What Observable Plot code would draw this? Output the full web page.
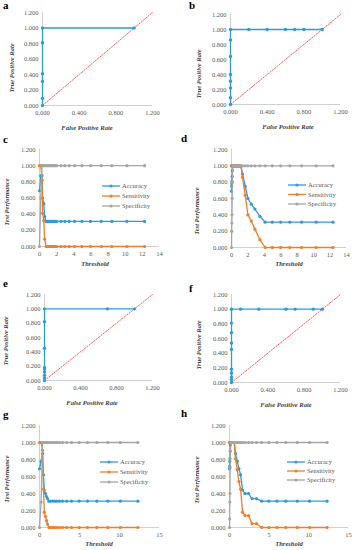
<!DOCTYPE html>
<html><head><meta charset="utf-8">
<script src="https://cdn.jsdelivr.net/npm/d3@7"></script>
<script src="https://cdn.jsdelivr.net/npm/@observablehq/plot@0.6"></script>
<style>
body{margin:0;background:#fff;width:354px;height:550px;position:relative;overflow:hidden;font-family:"Liberation Serif",serif;}
.panel{position:absolute;}
#overlay{position:absolute;left:0;top:0;pointer-events:none;}
</style></head><body>
<script>
// ---------- DATA ----------
const panelLetters = ["a","b","c","d","e","f","g","h"];
const rocTitleX = "False Positive Rate";
const rocTitleY = "True Positive Rate";
const thrTitleX = "Threshold";
const thrTitleY = "Test Performance";
const seriesNames = ["Accuracy","Sensitivity","Specificity"];

const rateTicks = [0, 0.2, 0.4, 0.6, 0.8, 1.0, 1.2];
const fprTicks = [0, 0.4, 0.8, 1.2];
const thrTicks14 = [0, 2, 4, 6, 8, 10, 12, 14];
const thrTicks15 = [0, 5, 10, 15];
const diagonal = [0, 1.2];

// ROC a
const fprA = [0, 0, 0, 0, 0, 0, 1.0];
const tprA = [0, 0.09, 0.31, 0.41, 0.81, 1.0, 1.0];
// ROC b
const fprB = [0, 0, 0, 0, 0, 0, 0, 0, 0.2, 0.4, 0.6, 0.7, 0.8, 1.0];
const tprB = [0, 0.09, 0.22, 0.31, 0.40, 0.64, 0.86, 1.0, 1.0, 1.0, 1.0, 1.0, 1.0, 1.0];
// ROC e
const fprE = [0, 0, 0, 0, 0, 0, 0, 0, 0, 0.7, 1.0];
const tprE = [0, 0.037, 0.074, 0.12, 0.16, 0.18, 0.45, 0.82, 1.0, 1.0, 1.0];
// ROC f
const fprF = [0, 0, 0, 0, 0, 0, 0, 0, 0, 0, 0.1, 0.3, 0.6, 0.7, 0.9, 1.0];
const tprF = [0, 0.04, 0.077, 0.13, 0.18, 0.45, 0.54, 0.68, 0.81, 1.0, 1.0, 1.0, 1.0, 1.0, 1.0, 1.0];

// Threshold c
const thrC  = [0, 0.15, 0.3, 0.36, 0.5, 0.6, 0.77, 0.9, 1.0, 1.12, 1.25, 1.37, 1.48, 1.6, 1.71, 1.85, 2.0, 2.5, 2.96, 3.46, 4.09, 4.94, 5.95, 7.2, 8.44, 10.2, 12.26];
const accC  = [0.69, 0.876, 0.876, 0.60, 0.53, 0.37, 0.31, 0.31, 0.31, 0.31, 0.31, 0.31, 0.31, 0.31, 0.31, 0.31, 0.31, 0.31, 0.31, 0.31, 0.31, 0.31, 0.31, 0.31, 0.31, 0.31, 0.31];
const sensC = [1.0, 1.0, 0.82, 0.41, 0.32, 0.09, 0, 0, 0, 0, 0, 0, 0, 0, 0, 0, 0, 0, 0, 0, 0, 0, 0, 0, 0, 0, 0];
const specC = [0, 0.6, 1, 1, 1, 1, 1, 1, 1, 1, 1, 1, 1, 1, 1, 1, 1, 1, 1, 1, 1, 1, 1, 1, 1, 1, 1];

// Threshold d
const thrD  = [0, 0.02, 0.04, 0.06, 0.08, 0.1, 0.15, 0.25, 0.35, 0.45, 0.55, 0.65, 0.75, 0.85, 0.95, 1.05, 1.15, 1.34, 1.67, 2.0, 2.4, 2.85, 3.46, 4.1, 4.96, 5.98, 7.1, 8.54, 10.3, 12.36];
const accD  = [0.69, 0.75, 0.78, 0.81, 0.87, 0.94, 1, 1, 1, 1, 1, 1, 1, 1, 1, 1, 1, 0.90, 0.75, 0.60, 0.53, 0.47, 0.38, 0.31, 0.31, 0.31, 0.31, 0.31, 0.31, 0.31];
const sensD = [1, 1, 1, 1, 1, 1, 1, 1, 1, 1, 1, 1, 1, 1, 1, 1, 1, 0.86, 0.64, 0.40, 0.325, 0.225, 0.096, 0, 0, 0, 0, 0, 0, 0];
const specD = [0, 0.2, 0.3, 0.4, 0.6, 0.8, 1, 1, 1, 1, 1, 1, 1, 1, 1, 1, 1, 1, 1, 1, 1, 1, 1, 1, 1, 1, 1, 1, 1, 1];

// Threshold g
const thrG  = [0, 0.2, 0.375, 0.5, 0.6, 0.75, 0.875, 1.0, 1.17, 1.4, 1.67, 1.92, 2.17, 2.5, 2.875, 3.4, 4.0, 4.96, 6.0, 7.17, 8.54, 10.1, 12.3];
const accG  = [0.69, 0.78, 0.87, 0.62, 0.44, 0.40, 0.365, 0.34, 0.31, 0.31, 0.31, 0.31, 0.31, 0.31, 0.31, 0.31, 0.31, 0.31, 0.31, 0.31, 0.31, 0.31, 0.31];
const sensG = [1, 1, 0.91, 0.45, 0.18, 0.13, 0.08, 0.04, 0, 0, 0, 0, 0, 0, 0, 0, 0, 0, 0, 0, 0, 0, 0];
const specG = [0, 0.3, 1, 1, 1, 1, 1, 1, 1, 1, 1, 1, 1, 1, 1, 1, 1, 1, 1, 1, 1, 1, 1];

// Threshold h
const thrH  = [0, 0.02, 0.04, 0.06, 0.08, 0.1, 0.2, 0.3, 0.4, 0.5, 0.6, 0.76, 0.97, 1.19, 1.4, 1.65, 1.95, 2.4, 2.84, 3.4, 4.07, 4.96, 5.98, 7.1, 8.54, 10.1, 12.3];
const accH  = [0.69, 0.72, 0.78, 0.81, 0.90, 0.97, 1, 1, 1, 1, 1, 0.87, 0.78, 0.69, 0.62, 0.44, 0.40, 0.40, 0.34, 0.34, 0.31, 0.31, 0.31, 0.31, 0.31, 0.31, 0.31];
const sensH = [1, 1, 1, 1, 1, 1, 1, 1, 1, 1, 1, 0.81, 0.68, 0.54, 0.45, 0.18, 0.14, 0.14, 0.045, 0.045, 0, 0, 0, 0, 0, 0, 0];
const specH = [0, 0.1, 0.3, 0.4, 0.7, 0.9, 1, 1, 1, 1, 1, 1, 1, 1, 1, 1, 1, 1, 1, 1, 1, 1, 1, 1, 1, 1, 1];

// ---------- STYLE ----------
const BLUE = "#2e9bd9", ORANGE = "#f07d2a", GRAY = "#a5a5a5", RED = "#ff5a5a";
const AXIS = "#d0d0d0", TXT = "#595959";
const FONT = '"Liberation Serif", "Times New Roman", serif';
const seriesColors = [BLUE, ORANGE, GRAY];

// ---------- LAYOUT ----------
const rocPanels = [
  {letter:0, left:0,   top:0,   h:135, ml:42, mr:25, mt:12, mb:30, fpr:fprA, tpr:tprA,
   tx:[87,128], ty:[12,68], lp:[3,9]},
  {letter:1, left:177, top:0,   h:135, ml:53, mr:14, mt:14, mb:31, fpr:fprB, tpr:tprB,
   tx:[288,127], ty:[199,74], lp:[189,9]},
  {letter:4, left:0,   top:275, h:135, ml:44, mr:25, mt:19, mb:30, fpr:fprE, tpr:tprE,
   tx:[92,403], ty:[6,341], lp:[3,287]},
  {letter:5, left:177, top:275, h:135, ml:54, mr:14, mt:19, mb:28, fpr:fprF, tpr:tprF,
   tx:[286,405], ty:[199,345], lp:[189,292]},
];
const thrPanels = [
  {letter:2, left:0,   top:135, h:135, ml:39, mr:18, mt:14, mb:24, xmax:14, ticks:thrTicks14,
   t:thrC, acc:accC, sens:sensC, spec:specC, tx:[95,264], ty:[7,202], lp:[3,143], leg:[102,186,10]},
  {letter:3, left:177, top:135, h:135, ml:54, mr:8,  mt:14, mb:23, xmax:14, ticks:thrTicks14,
   t:thrD, acc:accD, sens:sensD, spec:specD, tx:[289,264], ty:[197,211], lp:[181,142], leg:[288,185,9.5]},
  {letter:6, left:0,   top:410, h:140, ml:39, mr:18, mt:15, mb:23, xmax:15, ticks:thrTicks15,
   t:thrG, acc:accG, sens:sensG, spec:specG, tx:[99,544], ty:[7,479], lp:[3,418], leg:[100,462,10]},
  {letter:7, left:177, top:410, h:140, ml:52, mr:6,  mt:15, mb:23, xmax:15, ticks:thrTicks15,
   t:thrH, acc:accH, sens:sensH, spec:specH, tx:[289,544], ty:[197,480], lp:[181,417], leg:[287,462,9]},
];

const fmt3 = d3.format(".3f");
function baseStyle(){
  return {fontFamily: FONT, fontSize: "6.5px", color: TXT, background: "transparent", overflow: "visible"};
}
function place(svg, p){
  const div = document.createElement("div");
  div.className = "panel";
  div.style.left = p.left + "px";
  div.style.top = p.top + "px";
  div.appendChild(svg);
  document.body.appendChild(div);
}

for (const p of rocPanels) {
  const pts = p.fpr.map((f, i) => ({f, t: p.tpr[i]}));
  const diag = diagonal.map(v => ({v}));
  const svg = Plot.plot({
    width: 177, height: p.h,
    marginLeft: p.ml, marginRight: p.mr, marginTop: p.mt, marginBottom: p.mb,
    style: baseStyle(),
    x: {domain: [0, 1.2], ticks: fprTicks, tickFormat: fmt3, tickSize: 0, tickPadding: 5, label: null},
    y: {domain: [0, 1.2], ticks: rateTicks, tickFormat: fmt3, tickSize: 0, tickPadding: 4, label: null},
    marks: [
      Plot.ruleX([0], {stroke: AXIS}),
      Plot.ruleY([0], {stroke: AXIS}),
      Plot.line(diag, {x: "v", y: "v", stroke: RED, strokeWidth: 1, strokeDasharray: "1.5,1.5"}),
      Plot.line(pts, {x: "f", y: "t", stroke: BLUE, strokeWidth: 1.3}),
      Plot.dot(pts, {x: "f", y: "t", fill: BLUE, r: 1.7})
    ]
  });
  place(svg, p);
}

for (const p of thrPanels) {
  const rows = p.t.map((t, i) => ({t, acc: p.acc[i], sens: p.sens[i], spec: p.spec[i]}));
  const keys = ["acc", "sens", "spec"];
  const marks = [Plot.ruleX([0], {stroke: AXIS}), Plot.ruleY([0], {stroke: AXIS})];
  keys.forEach((k, i) => {
    marks.push(Plot.line(rows, {x: "t", y: k, stroke: seriesColors[i], strokeWidth: 1.3}));
    marks.push(Plot.dot(rows, {x: "t", y: k, fill: seriesColors[i], r: 1.6}));
  });
  const svg = Plot.plot({
    width: 177, height: p.h,
    marginLeft: p.ml, marginRight: p.mr, marginTop: p.mt, marginBottom: p.mb,
    style: baseStyle(),
    x: {domain: [0, p.xmax], ticks: p.ticks, tickFormat: d3.format("d"), tickSize: 0, tickPadding: 5, label: null},
    y: {domain: [0, 1.2], ticks: rateTicks, tickFormat: fmt3, tickSize: 0, tickPadding: 4, label: null},
    marks
  });
  place(svg, p);
}

// ---------- OVERLAY TEXT (titles, letters, legends) ----------
const ov = d3.select("body").append("svg").attr("id", "overlay")
  .attr("width", 354).attr("height", 550)
  .style("font-family", FONT);

function titles(p, xt, yt){
  ov.append("text").attr("x", p.tx[0]).attr("y", p.tx[1]).attr("dy", "0.35em")
    .attr("text-anchor", "middle").attr("font-size", 6.5).attr("font-style", "italic")
    .attr("font-weight", "bold").attr("fill", "#404040").text(xt);
  ov.append("text").attr("transform", `translate(${p.ty[0]},${p.ty[1]}) rotate(-90)`).attr("dy", "0.35em")
    .attr("text-anchor", "middle").attr("font-size", 6.5).attr("font-style", "italic")
    .attr("font-weight", "bold").attr("fill", "#404040").text(yt);
  ov.append("text").attr("x", p.lp[0]).attr("y", p.lp[1])
    .attr("font-size", 11).attr("font-weight", "bold").attr("fill", "#000").text(panelLetters[p.letter]);
}
rocPanels.forEach(p => titles(p, rocTitleX, rocTitleY));
thrPanels.forEach(p => {
  titles(p, thrTitleX, thrTitleY);
  const [lx, ly, dy] = p.leg;
  seriesNames.forEach((name, i) => {
    const y = ly + i * dy;
    ov.append("line").attr("x1", lx).attr("x2", lx + 18).attr("y1", y).attr("y2", y)
      .attr("stroke", seriesColors[i]).attr("stroke-width", 1.3);
    ov.append("circle").attr("cx", lx + 9).attr("cy", y).attr("r", 1.6).attr("fill", seriesColors[i]);
    ov.append("text").attr("x", lx + 20).attr("y", y).attr("dy", "0.35em")
      .attr("font-size", 6.5).attr("fill", TXT).text(name);
  });
});
</script>
</body></html>
